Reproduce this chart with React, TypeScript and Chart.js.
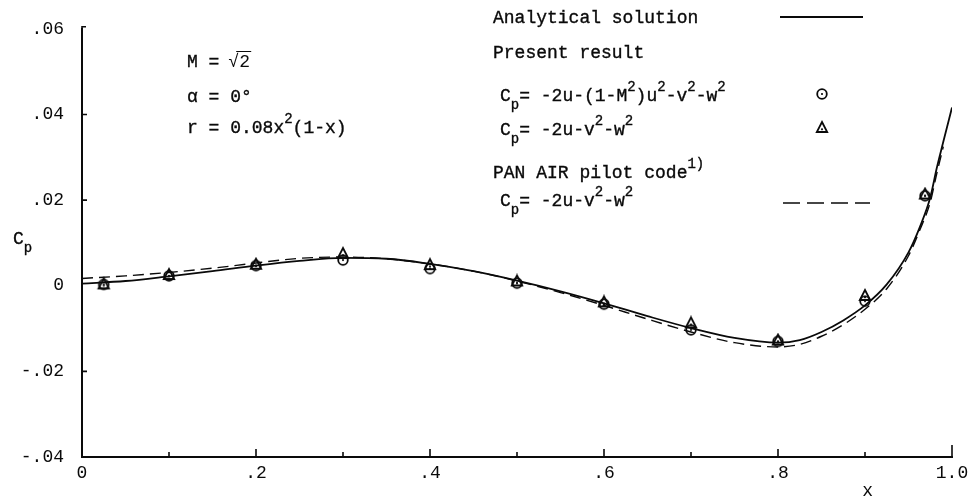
import React, { useEffect, useRef } from "react";
import { Chart, registerables } from "chart.js";

Chart.register(...registerables);

const FONT = "'Liberation Mono', 'DejaVu Sans Mono', monospace";
const INK = "#0a0a0a";

// ---- tick labels ----
const xTickLabels = ["0", ".2", ".4", ".6", ".8", "1.0"];
const yTickLabels = ["-.04", "-.02", "0", ".02", ".04", ".06"];
const xMajorTickValues = [0.2, 0.4, 0.6, 0.8];
const xMinorTickValues = [0.1, 0.3, 0.5, 0.7, 0.9];
const yTickValues = [-0.02, 0.02, 0.04];

// ---- analytical solution (solid) ----
const analyticX = [0, 0.05, 0.1, 0.15, 0.2, 0.25, 0.3, 0.35, 0.4, 0.45, 0.5, 0.55, 0.6, 0.65, 0.7, 0.75, 0.8, 0.825, 0.85, 0.875, 0.9, 0.925, 0.95, 0.963, 0.975, 0.9825, 0.99, 1.0];
const analyticCp = [0.0005, 0.0011, 0.0022, 0.0034, 0.0047, 0.0058, 0.0065, 0.0063, 0.0051, 0.0034, 0.0012, -0.0013, -0.0041, -0.0071, -0.0099, -0.0122, -0.0133, -0.0127, -0.0108, -0.0081, -0.0046, 0.0003, 0.0078, 0.0137, 0.0206, 0.0275, 0.0336, 0.0416];

// ---- PAN AIR pilot code (dashed) ----
const panairX = [0, 0.05, 0.1, 0.15, 0.2, 0.25, 0.3, 0.35, 0.4, 0.45, 0.5, 0.55, 0.6, 0.65, 0.7, 0.75, 0.8, 0.825, 0.85, 0.875, 0.9, 0.925, 0.95, 0.963, 0.975, 0.9825, 0.99];
const panairCp = [0.0017, 0.0023, 0.0031, 0.0041, 0.0053, 0.0064, 0.0067, 0.0063, 0.0051, 0.0034, 0.0011, -0.0016, -0.0046, -0.0078, -0.0108, -0.0133, -0.0143, -0.0137, -0.0118, -0.0091, -0.0055, -0.0007, 0.007, 0.013, 0.0195, 0.0262, 0.0325];

// ---- present result (markers) ----
const sampleX = [0.025, 0.1, 0.2, 0.3, 0.4, 0.5, 0.6, 0.7, 0.8, 0.9, 0.969];
const circleCp = [0.0003, 0.0023, 0.0047, 0.006, 0.004, 0.0006, -0.0043, -0.0103, -0.013, -0.0036, 0.021];
const triangleCp = [0.0003, 0.0025, 0.0049, 0.0074, 0.0048, 0.001, -0.0039, -0.0088, -0.0128, -0.0024, 0.0213];

type Seg = [string, "n" | "sup" | "sub"];

function drawRich(ctx: CanvasRenderingContext2D, x: number, y: number, segs: Seg[]) {
  let cx = x;
  for (const [t, k] of segs) {
    const size = k === "n" ? 18 : 14;
    const dy = k === "sup" ? -10 : k === "sub" ? 8 : 0;
    ctx.font = `${size}px ${FONT}`;
    ctx.fillText(t, cx, y + dy);
    ctx.strokeText(t, cx, y + dy);
    cx += ctx.measureText(t).width;
  }
  return cx;
}

function makeMarker(kind: "circle" | "triangle") {
  const c = document.createElement("canvas");
  c.width = 16;
  c.height = 16;
  const g = c.getContext("2d")!;
  g.strokeStyle = INK;
  g.fillStyle = INK;
  g.lineWidth = 1.8;
  g.beginPath();
  if (kind === "circle") {
    g.arc(8, 8, 4.8, 0, Math.PI * 2);
    g.stroke();
    g.fillRect(7.1, 7.1, 1.8, 1.8);
  } else {
    g.moveTo(8, 2);
    g.lineTo(13.2, 12);
    g.lineTo(2.8, 12);
    g.closePath();
    g.stroke();
    g.fillRect(7.1, 8.4, 1.8, 1.8);
  }
  return c;
}

export default function App() {
  const ref = useRef<HTMLCanvasElement | null>(null);

  useEffect(() => {
    const canvas = ref.current;
    if (!canvas) return;
    const circleImg = makeMarker("circle");
    const triImg = makeMarker("triangle");

    const decor = {
      id: "decor",
      afterDraw(chart: any) {
        const ctx: CanvasRenderingContext2D = chart.ctx;
        const xs = chart.scales.x;
        const ys = chart.scales.y;
        const x0 = xs.getPixelForValue(0);
        const x1 = xs.getPixelForValue(1);
        const yb = ys.getPixelForValue(-0.04);
        const yt = ys.getPixelForValue(0.06);
        ctx.save();
        ctx.strokeStyle = INK;
        ctx.fillStyle = INK;
        ctx.lineWidth = 1.6;
        ctx.setLineDash([]);
        ctx.beginPath();
        for (const v of xMajorTickValues) {
          const p = xs.getPixelForValue(v);
          ctx.moveTo(p, yb);
          ctx.lineTo(p, yb - 8);
        }
        for (const v of xMinorTickValues) {
          const p = xs.getPixelForValue(v);
          ctx.moveTo(p, yb);
          ctx.lineTo(p, yb - 5);
        }
        ctx.moveTo(x1, yb);
        ctx.lineTo(x1, yb - 12);
        for (const v of yTickValues) {
          const p = ys.getPixelForValue(v);
          ctx.moveTo(x0, p);
          ctx.lineTo(x0 + 5, p);
        }
        ctx.moveTo(x0, yt + 1);
        ctx.lineTo(x0, yt - 2);
        ctx.lineTo(x0 + 4, yt - 2);
        ctx.stroke();

        ctx.textAlign = "left";
        ctx.textBaseline = "alphabetic";
        ctx.lineWidth = 0.35;

        // axis titles
        drawRich(ctx, 13, 244, [["C", "n"], ["p", "sub"]]);
        ctx.font = `18px ${FONT}`;
        ctx.textAlign = "center";
        ctx.fillText("x", xs.getPixelForValue(0.903), 496);
        ctx.textAlign = "left";

        // parameters
        const ax = 187;
        let e = drawRich(ctx, ax, 67, [["M = ", "n"]]);
        ctx.font = `18px ${FONT}`;
        ctx.fillText("\u221A", e - 2, 67);
        const sx = e + 9;
        ctx.fillText("2", sx, 67);
        ctx.beginPath();
        ctx.lineWidth = 1;
        ctx.moveTo(e + 6, 51.5);
        ctx.lineTo(sx + 12, 51.5);
        ctx.stroke();
        ctx.lineWidth = 0.35;
        drawRich(ctx, ax, 102, [["\u03B1 = 0\u00B0", "n"]]);
        drawRich(ctx, ax, 133, [["r = 0.08x", "n"], ["2", "sup"], ["(1-x)", "n"]]);

        // legend
        const lx = 493;
        const ix = 500;
        drawRich(ctx, lx, 23, [["Analytical solution", "n"]]);
        drawRich(ctx, lx, 58, [["Present result", "n"]]);
        drawRich(ctx, ix, 101, [["C", "n"], ["p", "sub"], ["= -2u-(1-M", "n"], ["2", "sup"], [")u", "n"], ["2", "sup"], ["-v", "n"], ["2", "sup"], ["-w", "n"], ["2", "sup"]]);
        drawRich(ctx, ix, 135, [["C", "n"], ["p", "sub"], ["= -2u-v", "n"], ["2", "sup"], ["-w", "n"], ["2", "sup"]]);
        drawRich(ctx, lx, 178, [["PAN AIR pilot code", "n"], ["1)", "sup"]]);
        drawRich(ctx, ix, 206, [["C", "n"], ["p", "sub"], ["= -2u-v", "n"], ["2", "sup"], ["-w", "n"], ["2", "sup"]]);

        ctx.lineWidth = 1.8;
        ctx.beginPath();
        ctx.moveTo(780, 17);
        ctx.lineTo(863, 17);
        ctx.stroke();
        ctx.setLineDash([17, 7]);
        ctx.lineWidth = 1.5;
        ctx.beginPath();
        ctx.moveTo(783, 203);
        ctx.lineTo(870, 203);
        ctx.stroke();
        ctx.setLineDash([]);
        ctx.drawImage(circleImg, 822 - 8, 94 - 8);
        ctx.drawImage(triImg, 822 - 8, 128 - 8);
        ctx.restore();
      },
    };

    const chart = new Chart(canvas, {
      type: "scatter",
      data: {
        datasets: [
          {
            label: "Analytical solution",
            data: analyticX.map((x, i) => ({ x, y: analyticCp[i] })),
            showLine: true,
            borderColor: INK,
            borderWidth: 1.8,
            pointRadius: 0,
            cubicInterpolationMode: "monotone",
          },
          {
            label: "PAN AIR pilot code",
            data: panairX.map((x, i) => ({ x, y: panairCp[i] })),
            showLine: true,
            borderColor: INK,
            borderWidth: 1.4,
            borderDash: [11, 6],
            pointRadius: 0,
            cubicInterpolationMode: "monotone",
          },
          {
            label: "Cp circles",
            data: sampleX.map((x, i) => ({ x, y: circleCp[i] })),
            showLine: false,
            pointStyle: circleImg,
            pointRadius: 5,
          },
          {
            label: "Cp triangles",
            data: sampleX.map((x, i) => ({ x, y: triangleCp[i] })),
            showLine: false,
            pointStyle: triImg,
            pointRadius: 5,
          },
        ] as any,
      },
      options: {
        animation: false,
        responsive: false,
        devicePixelRatio: 1,
        layout: { padding: { left: 0, right: 23, top: 22, bottom: 0 } },
        plugins: { legend: { display: false }, tooltip: { enabled: false } },
        scales: {
          x: {
            type: "linear",
            min: 0,
            max: 1,
            afterFit: (s: any) => {
              s.height = 40;
            },
            afterBuildTicks: (s: any) => {
              s.ticks = xTickLabels.map((_, i) => ({ value: i * 0.2 }));
            },
            ticks: {
              font: { family: FONT, size: 18 },
              color: INK,
              padding: 5,
              maxRotation: 0,
              autoSkip: false,
              callback: (_v: any, i: number) => xTickLabels[i],
            },
            grid: { display: true, drawOnChartArea: false, drawTicks: false },
            border: { display: true, color: INK, width: 2 },
          },
          y: {
            type: "linear",
            min: -0.04,
            max: 0.06,
            afterFit: (s: any) => {
              s.width = 82;
            },
            afterBuildTicks: (s: any) => {
              s.ticks = yTickLabels.map((_, i) => ({ value: -0.04 + i * 0.02 }));
            },
            ticks: {
              font: { family: FONT, size: 18 },
              color: INK,
              padding: 18,
              autoSkip: false,
              callback: (_v: any, i: number) => yTickLabels[i],
            },
            grid: { display: true, drawOnChartArea: false, drawTicks: false },
            border: { display: true, color: INK, width: 2 },
          },
        },
      },
      plugins: [decor],
    });
    return () => chart.destroy();
  }, []);

  return (
    <div style={{ position: "absolute", left: 0, top: 0, width: 975, height: 497, background: "#fff" }}>
      <canvas ref={ref} width={975} height={497} style={{ width: 975, height: 497, display: "block" }} />
    </div>
  );
}
